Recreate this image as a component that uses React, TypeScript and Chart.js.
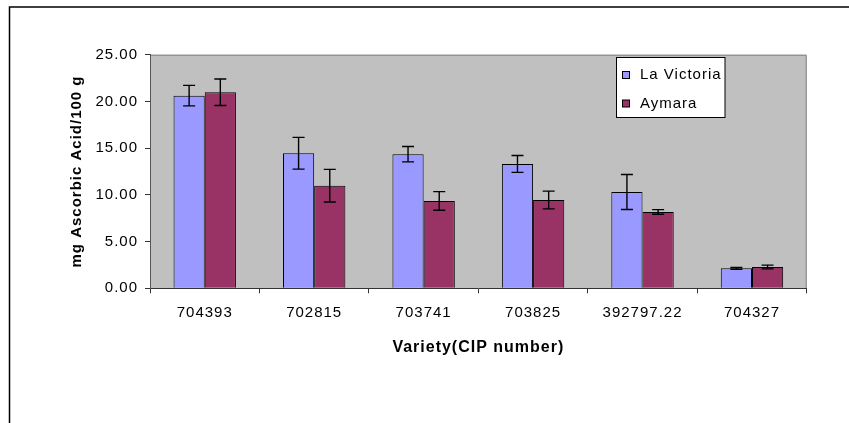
import React, { useEffect, useRef } from 'react';
import { Chart, registerables } from 'chart.js';

Chart.register(...registerables);

const categories = ['704393', '702815', '703741', '703825', '392797.22', '704327'];
const seriesNames = ['La Victoria', 'Aymara'];
const laVictoria = [20.62, 14.45, 14.35, 13.31, 10.31, 2.14];
const laVictoriaErr = [1.1, 1.7, 0.82, 0.9, 1.87, 0.1];
const aymara = [20.98, 10.98, 9.35, 9.45, 8.17, 2.28];
const aymaraErr = [1.42, 1.75, 1.0, 0.95, 0.25, 0.2];
const yTicks = [0, 5, 10, 15, 20, 25];

const FONT = "'Liberation Sans', Arial, Helvetica, sans-serif";
const BLUE = '#9999FF';
const RED = '#993366';

export default function App() {
  const ref = useRef<HTMLCanvasElement>(null);

  useEffect(() => {
    const canvas = ref.current;
    if (!canvas) return;

    const values = [laVictoria, aymara];
    const errors = [laVictoriaErr, aymaraErr];
    const colors = [BLUE, RED];

    const spacing = {
      id: 'spacing',
      beforeUpdate(c: any) { c.ctx.letterSpacing = '1px'; },
      beforeLayout(c: any) { c.ctx.letterSpacing = '1px'; },
      beforeDraw(c: any) { c.ctx.letterSpacing = '1px'; },
    };

    const background = {
      id: 'background',
      beforeDraw(c: any) {
        const ctx = c.ctx;
        const a = c.chartArea;
        ctx.save();
        ctx.fillStyle = '#ffffff';
        ctx.fillRect(0, 0, c.width, c.height);
        // outer frame (top + left visible)
        ctx.strokeStyle = '#000';
        ctx.lineWidth = 1.5;
        ctx.beginPath();
        ctx.moveTo(9.5, c.height);
        ctx.lineTo(9.5, 7);
        ctx.lineTo(c.width, 7);
        ctx.stroke();
        // plot area
        ctx.fillStyle = '#C0C0C0';
        ctx.fillRect(a.left, a.top, a.right - a.left, a.bottom - a.top);
        ctx.strokeStyle = '#808080';
        ctx.lineWidth = 1;
        ctx.beginPath();
        ctx.moveTo(a.left, a.top + 0.5);
        ctx.lineTo(a.right - 0.5, a.top + 0.5);
        ctx.lineTo(a.right - 0.5, a.bottom);
        ctx.stroke();
        ctx.restore();
      },
    };

    const errorBars = {
      id: 'errorBars',
      afterDatasetsDraw(c: any) {
        const ctx = c.ctx;
        const y = c.scales.y;
        ctx.save();
        ctx.strokeStyle = '#000';
        ctx.lineWidth = 1.4;
        values.forEach((vals, di) => {
          const meta = c.getDatasetMeta(di);
          meta.data.forEach((bar: any, i: number) => {
            const v = vals[i];
            const e = errors[di][i];
            const x = bar.x;
            const yt = y.getPixelForValue(v + e);
            const yb = y.getPixelForValue(v - e);
            ctx.beginPath();
            ctx.moveTo(x, yt);
            ctx.lineTo(x, yb);
            ctx.moveTo(x - 6, yt);
            ctx.lineTo(x + 6, yt);
            ctx.moveTo(x - 6, yb);
            ctx.lineTo(x + 6, yb);
            ctx.stroke();
          });
        });
        ctx.restore();
      },
    };

    const legendBox = {
      id: 'legendBox',
      afterDraw(c: any) {
        const ctx = c.ctx;
        const bx = 616.5, by = 57.5, bw = 108.5, bh = 60;
        ctx.save();
        ctx.letterSpacing = '1px';
        ctx.fillStyle = '#fff';
        ctx.fillRect(bx, by, bw, bh);
        ctx.strokeStyle = '#000';
        ctx.lineWidth = 1;
        ctx.strokeRect(bx, by, bw, bh);
        ctx.font = `15px ${FONT}`;
        ctx.textBaseline = 'middle';
        ctx.textAlign = 'left';
        seriesNames.forEach((name, i) => {
          const cy = 75 + i * 28.5;
          ctx.fillStyle = colors[i];
          ctx.fillRect(622.5, cy - 3.5, 7, 7);
          ctx.strokeRect(622.5, cy - 3.5, 7, 7);
          ctx.fillStyle = '#000';
          ctx.fillText(name, 640, cy);
        });
        ctx.restore();
      },
    };

    const chart = new Chart(canvas, {
      type: 'bar',
      data: {
        labels: categories,
        datasets: seriesNames.map((name, i) => ({
          label: name,
          data: values[i],
          backgroundColor: colors[i],
          borderColor: '#000',
          borderWidth: 1,
          barPercentage: 1,
          categoryPercentage: 0.57,
        })),
      },
      options: {
        responsive: false,
        animation: false,
        devicePixelRatio: 1,
        layout: { padding: { left: 60, right: 42.3, top: 54.7, bottom: 54.7 } },
        plugins: {
          legend: { display: false },
          tooltip: { enabled: false },
        },
        scales: {
          x: {
            grid: {
              offset: true,
              drawOnChartArea: false,
              drawTicks: true,
              tickLength: 5,
              tickColor: '#333',
            },
            border: { display: true, color: '#333', width: 1 },
            ticks: {
              font: { family: FONT, size: 15 },
              color: '#000',
              padding: 11,
              maxRotation: 0,
              autoSkip: false,
            },
            title: {
              display: true,
              text: 'Variety(CIP number)',
              font: { family: FONT, size: 16, weight: 'bold' },
              color: '#000',
              padding: { top: 0, bottom: 11 },
            },
            afterFit(s: any) { s.height = 80; },
          },
          y: {
            min: yTicks[0],
            max: yTicks[yTicks.length - 1],
            afterBuildTicks(s: any) { s.ticks = yTicks.map((v) => ({ value: v })); },
            ticks: {
              callback: (v: any) => Number(v).toFixed(2),
              font: { family: FONT, size: 15 },
              color: '#000',
              padding: 7,
            },
            grid: {
              drawOnChartArea: false,
              drawTicks: true,
              tickLength: 5,
              tickColor: '#333',
            },
            border: { display: true, color: '#555', width: 1 },
            title: {
              display: true,
              text: 'mg Ascorbic Acid/100 g',
              font: { family: FONT, size: 15, weight: 'bold' },
              color: '#000',
              padding: { top: 8, bottom: 0 },
            },
            afterFit(s: any) { s.width = 90; },
          },
        },
      } as any,
      plugins: [spacing, background, errorBars, legendBox],
    });

    return () => chart.destroy();
  }, []);

  return (
    <div style={{ position: 'fixed', left: 0, top: 0, width: 849, height: 423, background: '#fff' }}>
      <canvas ref={ref} width={849} height={423} />
    </div>
  );
}
